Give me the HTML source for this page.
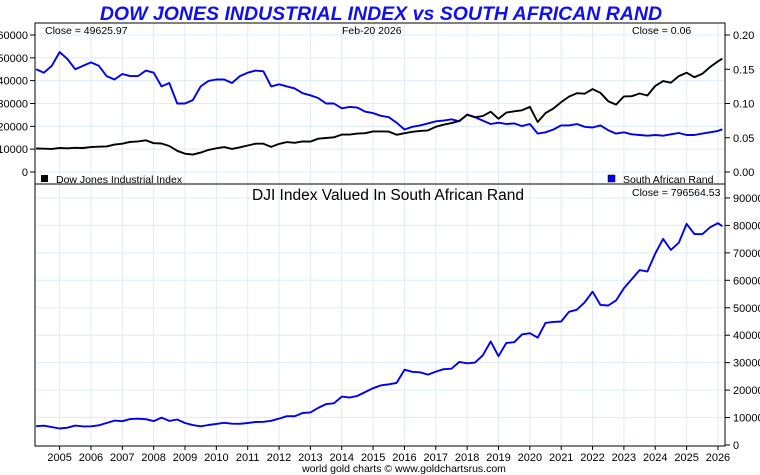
<!DOCTYPE html>
<html><head><meta charset="utf-8"><style>
body{margin:0;background:#fff;}
svg{display:block;font-family:"Liberation Sans",sans-serif;}
</style></head><body>
<svg id="c" width="760" height="475" viewBox="0 0 760 475">
<text x="381" y="20" text-anchor="middle" font-size="19.5" font-weight="bold" font-style="italic" fill="#1010ee">DOW JONES INDUSTRIAL INDEX vs SOUTH AFRICAN RAND</text>
<g id="grid"></g>
<g id="axes"></g>
<g id="series"></g>
<rect x="35" y="23" width="690" height="161" fill="none" stroke="#000" stroke-width="1"/>
<rect x="35" y="184" width="690" height="262" fill="none" stroke="#000" stroke-width="1"/>
<text x="45" y="34" font-size="10.5">Close = 49625.97</text>
<text x="342" y="34" font-size="10.5">Feb-20  2026</text>
<text x="632" y="34" font-size="10.5">Close = 0.06</text>
<rect x="41" y="175" width="7" height="7" fill="#000"/>
<text x="56" y="183" font-size="10.5">Dow Jones Industrial Index</text>
<rect x="608" y="175" width="7" height="7" fill="#0000ee" stroke="#000" stroke-width="0.5"/>
<text x="623" y="183" font-size="10.5">South African Rand</text>
<text x="388" y="200" text-anchor="middle" font-size="15.5">DJI Index Valued In South African Rand</text>
<text x="632" y="196" font-size="10.5">Close = 796564.53</text>
<text x="404" y="472" text-anchor="middle" font-size="10.5">world gold charts © www.goldchartsrus.com</text>
</svg>
<script>
const years = [];
for (let i = 0; i < 88; i++) years.push(2004.25 + i * 0.25);
years.push(2026.14);
const djiValues = [10300,10200,10100,10500,10400,10600,10500,10900,11100,11200,12000,12400,13200,13400,13900,12600,12500,11400,9300,8000,7600,8500,9700,10400,10900,10100,10800,11600,12400,12400,11000,12300,13100,12800,13400,13300,14600,14900,15200,16400,16400,16800,17000,17800,17800,17700,16300,17000,17600,18000,18200,19800,20700,21400,22400,25000,24000,24500,26400,23300,26000,26600,27000,28500,21900,25800,27800,30600,33000,34500,34300,36300,34700,31000,29500,33100,33200,34400,33500,37700,39800,39100,42000,43500,41500,43000,46000,48500,49626];
const zarValues = [0.15,0.145,0.155,0.175,0.165,0.15,0.155,0.16,0.155,0.14,0.135,0.143,0.14,0.14,0.148,0.145,0.125,0.13,0.10,0.10,0.105,0.125,0.133,0.135,0.135,0.13,0.14,0.145,0.148,0.147,0.125,0.128,0.125,0.122,0.115,0.112,0.108,0.10,0.10,0.093,0.095,0.094,0.088,0.086,0.082,0.08,0.072,0.062,0.066,0.068,0.071,0.074,0.075,0.077,0.074,0.084,0.08,0.075,0.07,0.072,0.07,0.071,0.067,0.07,0.056,0.058,0.062,0.068,0.068,0.07,0.066,0.065,0.068,0.061,0.056,0.058,0.055,0.054,0.053,0.054,0.053,0.055,0.057,0.054,0.054,0.056,0.058,0.06,0.0623];
const leftTicks = [0,10000,20000,30000,40000,50000,60000];
const rightTicks = ["0.00","0.05","0.10","0.15","0.20"];
const bottomTicks = ["0","100000","200000","300000","400000","500000","600000","700000","800000","900000"];
const yearLabels = ["2005","2006","2007","2008","2009","2010","2011","2012","2013","2014","2015","2016","2017","2018","2019","2020","2021","2022","2023","2024","2025","2026"];

const NS = "http://www.w3.org/2000/svg";
const xS = y => 59.6 + (y - 2005) * 31.35;
const yL = v => 172 - v / 60000 * 137;
const yR = v => 172 - v / 0.2 * 137;
const yB = v => 445 - v / 100000 * 27.45;
function mk(tag, attrs, parent) {
  const e = document.createElementNS(NS, tag);
  for (const k in attrs) e.setAttribute(k, attrs[k]);
  document.getElementById(parent).appendChild(e);
  return e;
}
yearLabels.forEach(l => {
  const x = xS(+l);
  const g1 = mk("line", {x1:x, x2:x, y1:24, y2:445, stroke:"#dcecf8", "stroke-width":1}, "grid");
  
  
  const tk = mk("line", {x1:x, x2:x, y1:446, y2:450, stroke:"#000"}, "axes");
  
  
  const t = mk("text", {x:x, y:461, "text-anchor":"middle", "font-size":"11"}, "axes");
  t.textContent = l;
  
  
});
leftTicks.forEach(v => {
  const y = yL(v);
  const g = mk("line", {x1:36, x2:724, y1:y, y2:y, stroke:"#dcecf8"}, "grid");
  
  
  const tk = mk("line", {x1:30, x2:35, y1:y, y2:y, stroke:"#000"}, "axes");
  
  
  const t = mk("text", {x:28, y:y + 4, "text-anchor":"end", "font-size":"11"}, "axes");
  t.textContent = v;
  
  
});
rightTicks.forEach(l => {
  const y = yR(+l);
  const tk = mk("line", {x1:725, x2:730, y1:y, y2:y, stroke:"#000"}, "axes");
  
  
  const t = mk("text", {x:733, y:y + 4, "font-size":"11"}, "axes");
  t.textContent = l;
  
  
});
bottomTicks.forEach(l => {
  const y = yB(+l);
  if (+l > 0) {
    const g = mk("line", {x1:36, x2:724, y1:y, y2:y, stroke:"#dcecf8"}, "grid");
    
    
  }
  const tk = mk("line", {x1:725, x2:730, y1:y, y2:y, stroke:"#000"}, "axes");
  
  
  const t = mk("text", {x:733, y:y + 4, "font-size":"11"}, "axes");
  t.textContent = l;
  
  
});
function line(vals, yf, color, name) {
  const d = vals.map((v, i) => (i ? "L" : "M") + xS(years[i]).toFixed(1) + "," + yf(v).toFixed(1)).join("");
  const p = mk("path", {d:d, fill:"none", stroke:color, "stroke-width":1.9, "stroke-linejoin":"round"}, "series");
  
  
}
line(zarValues, yR, "#0000ee", "zar-line");
line(djiValues, yL, "#000", "dji-line");
line(djiValues.map((v, i) => v / zarValues[i]), yB, "#0000ee", "dji-in-zar-line");
</script>
</body></html>
